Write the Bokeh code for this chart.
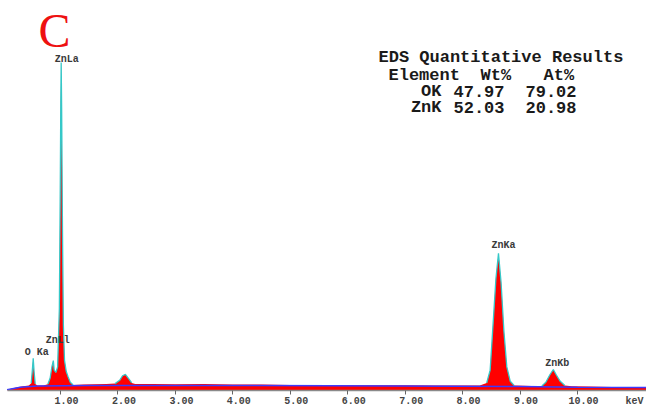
import numpy as np
from bokeh.plotting import figure
from bokeh.models import Range1d, FixedTicker, PrintfTickFormatter, Label, LinearAxis
from bokeh.embed import file_html
from bokeh.resources import INLINE

# ---- data ----
energy = [0.07, 0.15, 0.25, 0.35, 0.45, 0.49, 0.51, 0.525, 0.54, 0.56, 0.60, 0.70, 0.78,
          0.82, 0.85, 0.875, 0.89, 0.92, 0.95, 0.98, 0.995, 1.005, 1.012, 1.02, 1.035,
          1.05, 1.07, 1.10, 1.13, 1.17, 1.22, 1.40, 1.60, 1.80, 1.95, 2.03, 2.08, 2.13,
          2.18, 2.24, 2.30, 2.60, 3.00, 3.50, 4.00, 4.50, 5.00, 5.50, 6.00, 6.50, 7.00,
          7.50, 8.00, 8.30, 8.42, 8.48, 8.53, 8.58, 8.625, 8.67, 8.72, 8.77, 8.83, 8.90,
          9.20, 9.38, 9.45, 9.52, 9.58, 9.63, 9.70, 9.78, 9.90, 10.20, 10.60, 11.00, 11.20]
counts = [2, 6, 10, 13, 15, 22, 62, 98, 58, 20, 15, 15, 19,
          38, 72, 91, 62, 55, 72, 250, 600, 880, 1000, 860, 480,
          200, 92, 58, 43, 25, 17, 18, 19, 20, 21, 31, 45, 49,
          38, 23, 20, 20, 19, 20, 18, 18, 17, 17, 16, 16, 16,
          15, 15, 15, 23, 62, 200, 340, 418, 330, 180, 72, 28, 15,
          14, 14, 25, 48, 64, 48, 28, 15, 13, 12, 11, 10, 9]

bg_energy = [0.07, 0.30, 0.60, 1.50, 4.00, 7.00, 9.00, 10.00, 11.20]
bg_counts = [2, 10, 14, 15, 15, 14, 12, 10, 9]

peak_names = ["O Ka", "ZnLl", "ZnLa", "ZnKa", "ZnKb"]
peak_energy = [0.525, 0.875, 1.012, 8.625, 9.58]
peak_counts = [98, 91, 1000, 418, 64]

tick_values = [1, 2, 3, 4, 5, 6, 7, 8, 9, 10]
tick_labels = ["1.00", "2.00", "3.00", "4.00", "5.00", "6.00", "7.00", "8.00", "9.00", "10.00"]
unit_label = "keV"

table_title = "EDS Quantitative Results"
table_header = ["Element", "Wt%", "At%"]
elements = ["OK", "ZnK"]
wt_pct = [47.97, 52.03]
at_pct = [79.02, 20.98]

# ---- layout calibration (pixels) ----
W, H = 646, 411
FRAME_H = 390
PXK = 57.44          # px per keV
X0 = 2.56            # px of 0 keV
K = 0.328            # px per count
LABEL_SHIFT = 6      # tick labels sit a little right of their tick marks
UNIT_PX = 634        # centre of the "keV" label

x_start = -X0 / PXK
x_end = (W - X0) / PXK
y_end = FRAME_H / K


def dx(px):
    return (px - X0) / PXK


def dy(py):
    return (FRAME_H - py) / K


p = figure(width=W, height=H, x_range=Range1d(x_start, x_end), y_range=Range1d(0, y_end),
           output_backend="svg", toolbar_location=None,
           x_axis_location=None, y_axis_location=None,
           min_border_left=0, min_border_right=0, min_border_top=0, min_border_bottom=H - FRAME_H)
p.outline_line_color = None
p.xgrid.visible = False
p.ygrid.visible = False
p.background_fill_color = "white"

e = np.array(energy, float)
c = np.array(counts, float)

p.varea(x=e, y1=0, y2=c, fill_color="#ff0000")

keep = c >= 25
keep_ext = keep | np.r_[keep[1:], False] | np.r_[False, keep[:-1]]
outline = np.where(keep_ext, c, np.nan)
p.line(e, outline, line_color="#35c8c8", line_width=1.3)

p.line(bg_energy, bg_counts, line_color="#3a3aff", line_width=1.5)

# axis 1: line + tick marks (no visible labels)
axis_t = LinearAxis(ticker=FixedTicker(ticks=tick_values),
                    major_label_overrides={v: "" for v in tick_values},
                    bounds=(0.07, x_end))
axis_t.axis_line_color = "#8a8a8a"
axis_t.axis_line_width = 1.5
axis_t.major_tick_line_color = "#666666"
axis_t.major_tick_out = 4
axis_t.major_tick_in = 0
axis_t.minor_tick_out = 0
axis_t.minor_tick_in = 0
axis_t.major_label_standoff = 0
axis_t.major_label_text_font_size = "1px"
p.add_layout(axis_t, "below")

# axis 2: the tick labels, set slightly right of the marks as in the original
lab_pos = [round(v + LABEL_SHIFT / PXK, 4) for v in tick_values] + [round(dx(UNIT_PX), 4)]
lab_txt = tick_labels + [unit_label]
axis_l = LinearAxis(ticker=FixedTicker(ticks=lab_pos),
                    major_label_overrides=dict(zip(lab_pos, lab_txt)))
axis_l.axis_line_color = None
axis_l.major_tick_line_color = None
axis_l.major_tick_out = 0
axis_l.major_tick_in = 0
axis_l.minor_tick_out = 0
axis_l.minor_tick_in = 0
axis_l.major_label_standoff = 1
axis_l.major_label_text_font = "Liberation Mono"
axis_l.major_label_text_font_size = "10px"
axis_l.major_label_text_font_style = "bold"
axis_l.major_label_text_color = "#444444"
p.add_layout(axis_l, "below")

# peak labels: offsets in px from the peak top
lab_dx = [3.5, 4.5, 5.5, 5.0, 4.0]
lab_dy = [6, 20, 3, 8, 6]
for name, pe, pc, ox, oy in zip(peak_names, peak_energy, peak_counts, lab_dx, lab_dy):
    p.add_layout(Label(x=pe + ox / PXK, y=pc + oy / K, text=name,
                       text_align="center", text_baseline="middle",
                       text_font="Liberation Mono", text_font_size="10px",
                       text_font_style="bold", text_color="#3a3a3a"))

# panel letter
p.add_layout(Label(x=dx(38), y=dy(30), text="C", text_align="left",
                   text_baseline="middle", text_font="Liberation Serif",
                   text_font_size="48px", text_color="#ee1111"))

# quantitative results table
TFONT = dict(text_baseline="middle", text_font="Liberation Mono", text_font_size="17px",
             text_font_style="bold", text_color="#1a1a1a")
row_y = [57, 74.5, 91, 107]
p.add_layout(Label(x=dx(378), y=dy(row_y[0]), text=table_title, text_align="left", **TFONT))
for txt, hx in zip(table_header, [388, 480, 543]):
    p.add_layout(Label(x=dx(hx), y=dy(row_y[1]), text=txt, text_align="left", **TFONT))
for el, w, a, ry in zip(elements, wt_pct, at_pct, row_y[2:]):
    p.add_layout(Label(x=dx(441), y=dy(ry), text=el, text_align="right", **TFONT))
    p.add_layout(Label(x=dx(453), y=dy(ry), text=f"{w:.2f}", text_align="left", **TFONT))
    p.add_layout(Label(x=dx(525), y=dy(ry), text=f"{a:.2f}", text_align="left", **TFONT))

open("out.html", "w").write(file_html(p, INLINE))
